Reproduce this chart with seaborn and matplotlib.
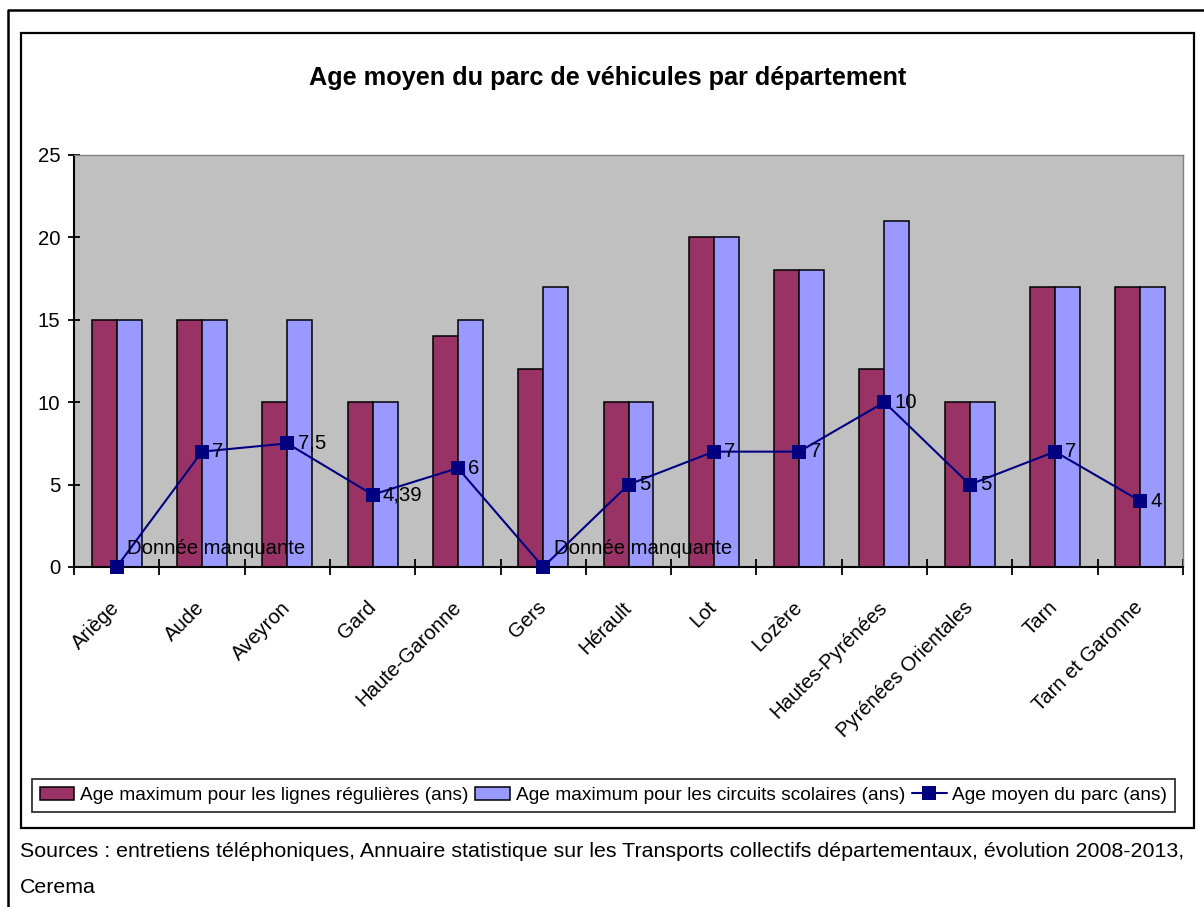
import numpy as np
import pandas as pd
import matplotlib
matplotlib.use("Agg")
import matplotlib.pyplot as plt
import seaborn as sns
from matplotlib import font_manager as fm
from matplotlib.ticker import FixedLocator, NullFormatter, FixedFormatter
from matplotlib.patches import Rectangle
from matplotlib.lines import Line2D

# ---------------- data ----------------
departements = ["Ariège", "Aude", "Aveyron", "Gard", "Haute-Garonne", "Gers",
                "Hérault", "Lot", "Lozère", "Hautes-Pyrénées",
                "Pyrénées Orientales", "Tarn", "Tarn et Garonne"]
age_max_lignes = [15, 15, 10, 10, 14, 12, 10, 20, 18, 12, 10, 17, 17]
age_max_scolaires = [15, 15, 15, 10, 15, 17, 10, 20, 18, 21, 10, 17, 17]
age_moyen = [0, 7, 7.5, 4.39, 6, 0, 5, 7, 7, 10, 5, 7, 4]
etiquettes_moyen = ["Donnée manquante", "7", "7,5", "4,39", "6", "Donnée manquante",
                    "5", "7", "7", "10", "5", "7", "4"]
y_ticks = [0, 5, 10, 15, 20, 25]
series = ["Age maximum pour les lignes régulières (ans)",
          "Age maximum pour les circuits scolaires (ans)",
          "Age moyen du parc (ans)"]
titre = "Age moyen du parc de véhicules par département"
source_1 = ("Sources : entretiens téléphoniques, Annuaire statistique sur les Transports "
            "collectifs départementaux, évolution 2008-2013,")
source_2 = "Cerema"

# ---------------- style ----------------
sns.set_style("white")
names = {f.name for f in fm.fontManager.ttflist}
if "Liberation Sans Narrow" in names:
    CH = ["Liberation Sans Narrow", "Liberation Sans", "DejaVu Sans"]
    k = 1.0
    kl = 1.0
else:
    CH = ["Liberation Sans", "DejaVu Sans"]
    k = 0.91
    kl = 0.86
plt.rcParams["font.family"] = ["Liberation Sans", "DejaVu Sans"]
plt.rcParams["text.color"] = "black"
plt.rcParams["xtick.color"] = "black"
plt.rcParams["ytick.color"] = "black"
plt.rcParams["axes.labelcolor"] = "black"

C_LIG = "#993366"
C_SCO = "#9999FF"
C_MOY = "#000080"
BG = "#C0C0C0"

W, H = 1204, 907
fig = plt.figure(figsize=(W / 100, H / 100), dpi=100)


def fx(px):
    return px / W


def fy(py):
    return 1 - py / H


ax = fig.add_axes([fx(74), fy(567), fx(1183) - fx(74), fy(155) - fy(567)])
ax.set_facecolor(BG)

df = pd.DataFrame({
    "dep": departements * 2,
    "val": age_max_lignes + age_max_scolaires,
    "serie": [series[0]] * len(departements) + [series[1]] * len(departements),
})
sns.barplot(data=df, x="dep", y="val", hue="serie", hue_order=series[:2],
            palette=[C_LIG, C_SCO], saturation=1, width=0.586, dodge=True,
            edgecolor="black", linewidth=1.1, ax=ax, legend=False, errorbar=None)

sns.pointplot(x=departements, y=age_moyen, color=C_MOY, markers="s",
              linestyles="-", errorbar=None, ax=ax, linewidth=1.5,
              markersize=9.8, markeredgewidth=0, clip_on=False, zorder=5)
line_moy = ax.lines[-1]

# data labels
for d, v, t in zip(departements, age_moyen, etiquettes_moyen):
    dy = 13 if t == "Donnée manquante" else 0
    ax.annotate(t, xy=(d, v), xytext=(7.5, dy), textcoords="offset points",
                ha="left", va="center", fontsize=16 * k, family=CH,
                color="black", annotation_clip=False, zorder=6)

# axes
ax.set_xlim(-0.5, len(departements) - 0.5)
ax.set_ylim(0, 25)
ax.set_yticks(y_ticks)
ax.set_xlabel("")
ax.set_ylabel("")
ax.grid(False)

ax.xaxis.set_major_locator(FixedLocator(np.arange(-0.5, len(departements), 1.0)))
ax.xaxis.set_major_formatter(NullFormatter())
ax.xaxis.set_minor_locator(FixedLocator(np.arange(len(departements))))
ax.xaxis.set_minor_formatter(FixedFormatter(departements))
ax.tick_params(axis="x", which="major", direction="inout", length=12, width=1.3,
               color="black", bottom=True)
ax.tick_params(axis="x", which="minor", length=0, pad=27, bottom=True,
               labelcolor="black")
ax.tick_params(axis="y", which="major", direction="inout", length=8.6, width=1.3,
               color="black", left=True, pad=5.5, labelcolor="black")
for lbl in ax.get_xticklabels(minor=True):
    lbl.set_rotation(45)
    lbl.set_ha("right")
    lbl.set_va("center")
    lbl.set_rotation_mode("anchor")
    lbl.set_fontsize(16 * k)
    lbl.set_family(CH)
for lbl in ax.get_yticklabels():
    lbl.set_fontsize(16 * k)
    lbl.set_family(CH)

for s in ["left", "bottom"]:
    ax.spines[s].set_color("black")
    ax.spines[s].set_linewidth(1.5)
for s in ["top", "right"]:
    ax.spines[s].set_color("#808080")
    ax.spines[s].set_linewidth(1.0)

# title
fig.text(fx(607.5), fy(85), titre, ha="center", va="baseline", color="black",
         fontsize=20 * k, fontweight="bold", family=CH)

# legend
leg = fig.legend([ax.containers[0], ax.containers[1], line_moy], series,
                 loc="upper left",
                 bbox_to_anchor=(fx(32), fy(820), fx(1175) - fx(32), fy(779) - fy(820)),
                 bbox_transform=fig.transFigure, mode="expand", ncol=3,
                 frameon=True, fancybox=False, borderaxespad=0,
                 prop={"family": CH, "size": 16 * kl},
                 handlelength=1.8, handleheight=0.7, handletextpad=0.3,
                 columnspacing=0.4, borderpad=0.4, labelcolor="black")
leg.get_frame().set_edgecolor("black")
leg.get_frame().set_linewidth(1.3)
leg.get_frame().set_facecolor("white")

# frames
fig.patches.append(Rectangle((fx(21), fy(828)), fx(1194) - fx(21), fy(33) - fy(828),
                             transform=fig.transFigure, fill=False,
                             edgecolor="black", linewidth=1.6, zorder=0))
fig.lines.append(Line2D([fx(8), fx(8), fx(1204)], [fy(907), fy(10), fy(10)],
                        transform=fig.transFigure, color="black", linewidth=1.8))

# sources
fig.text(fx(20), fy(857), source_1, ha="left", va="baseline", fontsize=15.4,
         color="black", family=["Liberation Sans", "DejaVu Sans"])
fig.text(fx(20), fy(893), source_2, ha="left", va="baseline", fontsize=15.4,
         color="black", family=["Liberation Sans", "DejaVu Sans"])

fig.savefig("out.png", dpi=100, facecolor="white")
